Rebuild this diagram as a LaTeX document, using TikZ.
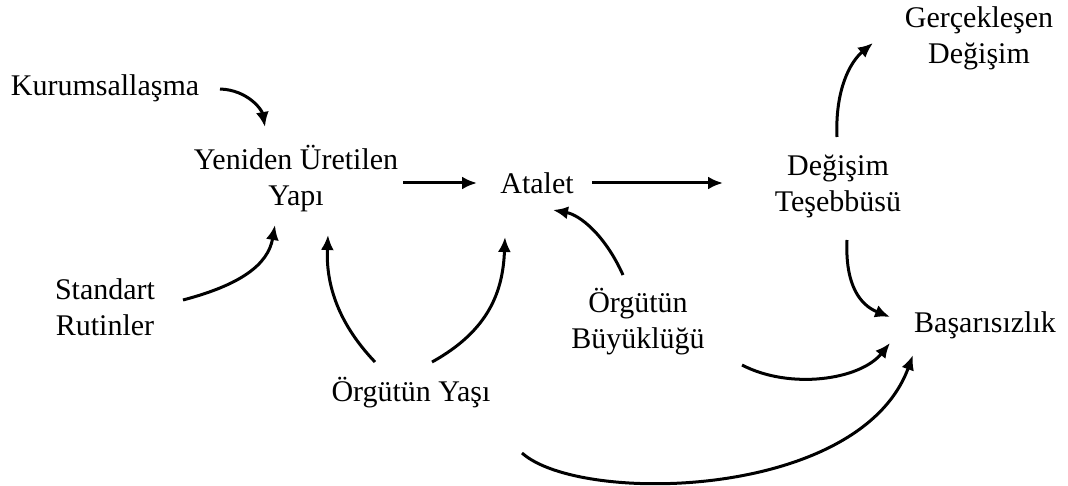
\documentclass[tikz,border=0pt]{standalone}
\usepackage{fontspec}
\setmainfont{Liberation Serif}
\usetikzlibrary{arrows.meta}
\begin{document}
\begin{tikzpicture}[x=1pt,y=-1pt,
  lbl/.style={inner sep=0pt, align=center, font=\fontsize{30}{36}\selectfont},
  conn/.style={line width=3pt, -{Latex[length=15pt,width=13pt]}}]
\useasboundingbox (0,0) rectangle (1068,486);
\node[lbl] (kur) at (105,88) {Kurumsallaşma};
\node[lbl] (yen) at (296,179) {Yeniden Üretilen\\Yapı};
\node[lbl] (ata) at (537,183) {Atalet};
\node[lbl] (deg) at (838,186) {Değişim\\Teşebbüsü};
\node[lbl] (ger) at (979,38) {Gerçekleşen\\Değişim};
\node[lbl] (std) at (105,307) {Standart\\Rutinler};
\node[lbl] (buy) at (638,322) {Örgütün\\Büyüklüğü};
\node[lbl] (yas) at (411,393) {Örgütün Yaşı};
\node[lbl] (bas) at (985,325) {Başarısızlık};
\coordinate (yasb) at (522,453);
% connectors
\draw[conn] ([shift={(115,1)}]kur.center) .. controls ([shift={(143,2)}]kur.center) and ([shift={(157,22)}]kur.center) .. ([shift={(-31,-52)}]yen.center);
\draw[conn] ([shift={(78,-7)}]std.center) .. controls ([shift={(135,-22)}]std.center) and ([shift={(-28,86)}]yen.center) .. ([shift={(-21,46)}]yen.center);
\draw[conn] ([shift={(-36,-31)}]yas.center) .. controls ([shift={(-76,-73)}]yas.center) and ([shift={(30,101)}]yen.center) .. ([shift={(32,56)}]yen.center);
\draw[conn] ([shift={(21,-31)}]yas.center) .. controls ([shift={(79,-63)}]yas.center) and ([shift={(-34,107)}]ata.center) .. ([shift={(-32,54)}]ata.center);
\draw[conn] ([shift={(107,4)}]yen.center) -- ([shift={(-60,0)}]ata.center);
\draw[conn] ([shift={(-15,-47)}]buy.center) .. controls ([shift={(-33,-87)}]buy.center) and ([shift={(43,32)}]ata.center) .. ([shift={(16,27)}]ata.center);
\draw[conn] ([shift={(55,0)}]ata.center) -- ([shift={(-115,-3)}]deg.center);
\draw[conn] ([shift={(9,54)}]deg.center) .. controls ([shift={(7,99)}]deg.center) and ([shift={(-125,-20)}]bas.center) .. ([shift={(-95,-8)}]bas.center);
\draw[conn] ([shift={(104,43)}]buy.center) .. controls ([shift={(152,68)}]buy.center) and ([shift={(-125,55)}]bas.center) .. ([shift={(-95,18)}]bas.center);
\draw[conn] (yasb) .. controls (580,505) and (860,500) .. ([shift={(-72,30)}]bas.center);
\draw[conn] ([shift={(-1,-49)}]deg.center) .. controls ([shift={(-3,-96)}]deg.center) and ([shift={(-129,24)}]ger.center) .. ([shift={(-106,5)}]ger.center);
\end{tikzpicture}
\end{document}
